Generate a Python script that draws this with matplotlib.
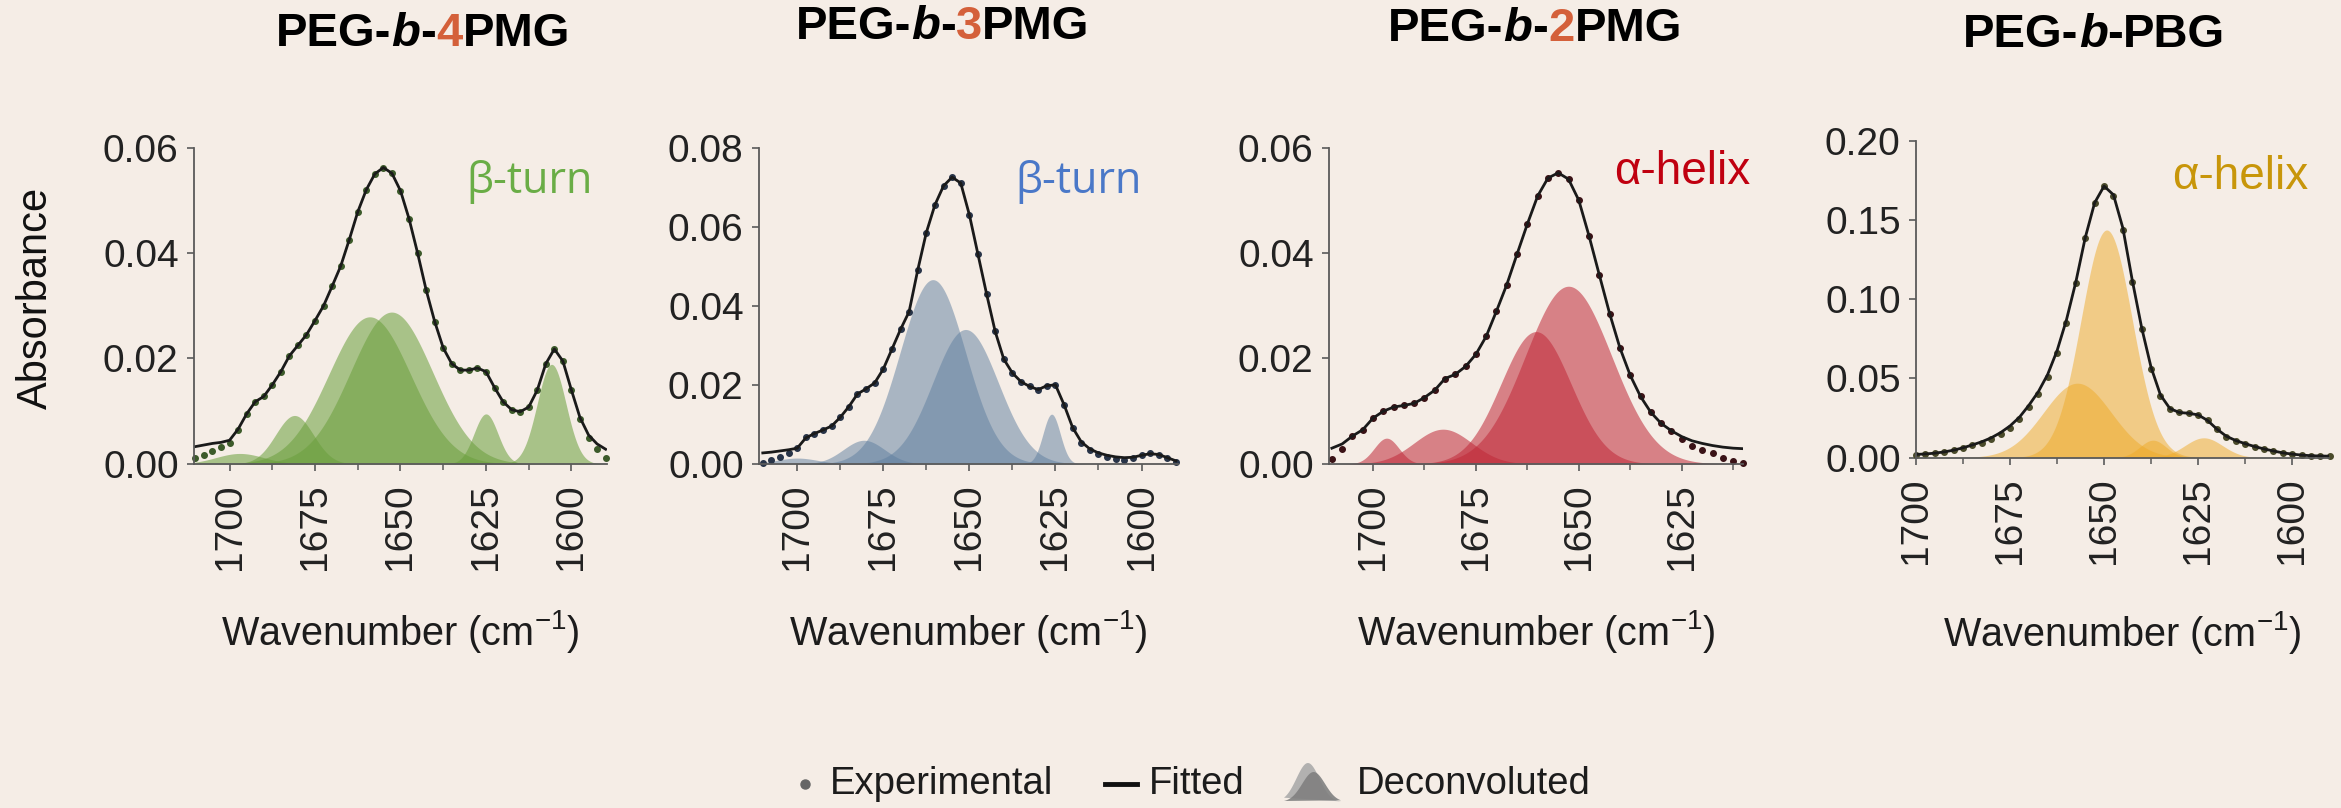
import numpy as np
import matplotlib.pyplot as plt
from matplotlib.ticker import MultipleLocator
from matplotlib.lines import Line2D
from matplotlib.patches import Polygon

W, H = 2341, 808
BG = '#f5ede6'

plt.rcParams['font.family'] = ['Liberation Sans', 'DejaVu Sans']
plt.rcParams['mathtext.fontset'] = 'custom'
plt.rcParams['mathtext.rm'] = 'Liberation Sans'
plt.rcParams['mathtext.it'] = 'Liberation Sans:italic'

# ---- data ----
titles = [('PEG-', 'b', '-', '4', 'PMG'),
          ('PEG-', 'b', '-', '3', 'PMG'),
          ('PEG-', 'b', '-', '2', 'PMG'),
          ('PEG-', 'b', '-', '', 'PBG')]
structures = ['β-turn', 'β-turn', 'α-helix', 'α-helix']
legend_labels = ['Experimental', 'Fitted', 'Deconvoluted']

wn1 = np.arange(1710, 1589, -2.5)
exp1 = [0.0012, 0.0018, 0.0025, 0.0032, 0.0040, 0.0065, 0.0095, 0.0118, 0.0128, 0.0150,
        0.0175, 0.0205, 0.0225, 0.0245, 0.0272, 0.0300, 0.0337, 0.0375, 0.0425, 0.0478,
        0.0520, 0.0550, 0.0562, 0.0551, 0.0518, 0.0465, 0.0400, 0.0330, 0.0270, 0.0220,
        0.0190, 0.0178, 0.0178, 0.0182, 0.0175, 0.0145, 0.0118, 0.0103, 0.0099, 0.0108,
        0.0140, 0.0190, 0.0218, 0.0195, 0.0140, 0.0085, 0.0050, 0.0028, 0.0012]
fit1 = [0.0033, 0.0036, 0.0039, 0.0041, 0.0045, 0.0066, 0.0095, 0.0118, 0.0128, 0.0150,
        0.0175, 0.0205, 0.0225, 0.0245, 0.0272, 0.0300, 0.0337, 0.0375, 0.0425, 0.0478,
        0.0520, 0.0550, 0.0562, 0.0551, 0.0518, 0.0465, 0.0400, 0.0330, 0.0270, 0.0220,
        0.0190, 0.0178, 0.0178, 0.0182, 0.0175, 0.0145, 0.0118, 0.0103, 0.0099, 0.0108,
        0.0140, 0.0190, 0.0218, 0.0195, 0.0140, 0.0088, 0.0055, 0.0038, 0.0028]
# deconvoluted bands: centre, height, sigma
bands1 = [(1697, 0.0020, 7), (1681, 0.0092, 5.5), (1659, 0.0279, 12), (1652.6, 0.0288, 12),
          (1625, 0.0095, 3.5), (1605.8, 0.0189, 4.2)]

wn2 = np.arange(1710, 1589, -2.5)
exp2 = [0.0003, 0.0010, 0.0018, 0.0028, 0.0040, 0.0068, 0.0077, 0.0086, 0.0096, 0.0118,
        0.0145, 0.0177, 0.0190, 0.0205, 0.0240, 0.0290, 0.0340, 0.0385, 0.0490, 0.0585,
        0.0655, 0.0703, 0.0725, 0.0710, 0.0630, 0.0530, 0.0430, 0.0335, 0.0265, 0.0230,
        0.0208, 0.0196, 0.0188, 0.0198, 0.0200, 0.0150, 0.0090, 0.0052, 0.0036, 0.0026,
        0.0018, 0.0012, 0.0011, 0.0015, 0.0022, 0.0027, 0.0024, 0.0015, 0.0004]
fit2 = [0.0028, 0.0030, 0.0033, 0.0036, 0.0040, 0.0066, 0.0077, 0.0086, 0.0096, 0.0118,
        0.0145, 0.0177, 0.0190, 0.0205, 0.0240, 0.0290, 0.0340, 0.0385, 0.0490, 0.0585,
        0.0655, 0.0703, 0.0725, 0.0710, 0.0630, 0.0530, 0.0430, 0.0335, 0.0265, 0.0230,
        0.0208, 0.0196, 0.0188, 0.0198, 0.0200, 0.0150, 0.0092, 0.0056, 0.0038, 0.0028,
        0.0022, 0.0018, 0.0016, 0.0017, 0.0022, 0.0026, 0.0024, 0.0016, 0.0008]
bands2 = [(1700, 0.0015, 6), (1680.6, 0.0060, 6), (1660.6, 0.0466, 9.5), (1651.1, 0.0340, 9.5),
          (1626.1, 0.0126, 2.5)]

wn3 = np.arange(1710, 1609, -2.5)
exp3 = [0.0010, 0.0028, 0.0053, 0.0065, 0.0087, 0.0100, 0.0108, 0.0111, 0.0115, 0.0126,
        0.0140, 0.0162, 0.0170, 0.0185, 0.0208, 0.0242, 0.0290, 0.0340, 0.0398, 0.0455,
        0.0508, 0.0542, 0.0552, 0.0540, 0.0500, 0.0432, 0.0358, 0.0285, 0.0220, 0.0168,
        0.0128, 0.0098, 0.0077, 0.0062, 0.0048, 0.0034, 0.0027, 0.0020, 0.0011, 0.0006,
        0.0002]
fit3 = [0.0030, 0.0038, 0.0053, 0.0065, 0.0087, 0.0100, 0.0108, 0.0111, 0.0115, 0.0126,
        0.0140, 0.0162, 0.0170, 0.0185, 0.0208, 0.0242, 0.0290, 0.0340, 0.0398, 0.0455,
        0.0508, 0.0542, 0.0552, 0.0540, 0.0500, 0.0432, 0.0358, 0.0285, 0.0220, 0.0168,
        0.0128, 0.0098, 0.0077, 0.0063, 0.0052, 0.0044, 0.0039, 0.0035, 0.0032, 0.0030,
        0.0029]
bands3 = [(1696.7, 0.0049, 3), (1683, 0.0066, 7), (1660.4, 0.0251, 8.5), (1652.5, 0.0337, 10.5)]

wn4 = np.arange(1700, 1589, -2.5)
exp4 = [0.0019, 0.0022, 0.0026, 0.0035, 0.0047, 0.0060, 0.0078, 0.0095, 0.0120, 0.0150,
        0.0190, 0.0245, 0.0320, 0.0400, 0.0510, 0.0660, 0.0850, 0.1100, 0.1390, 0.1610,
        0.1715, 0.1650, 0.1440, 0.1110, 0.0810, 0.0560, 0.0390, 0.0310, 0.0285, 0.0280,
        0.0270, 0.0235, 0.0178, 0.0130, 0.0105, 0.0085, 0.0068, 0.0055, 0.0042, 0.0028,
        0.0020, 0.0014, 0.0011, 0.0009, 0.0008]
fit4 = [0.0020, 0.0023, 0.0028, 0.0036, 0.0047, 0.0062, 0.0080, 0.0100, 0.0125, 0.0158,
        0.0200, 0.0255, 0.0330, 0.0415, 0.0525, 0.0675, 0.0870, 0.1110, 0.1390, 0.1610,
        0.1715, 0.1660, 0.1450, 0.1120, 0.0820, 0.0570, 0.0395, 0.0310, 0.0285, 0.0280,
        0.0270, 0.0235, 0.0180, 0.0135, 0.0108, 0.0088, 0.0070, 0.0055, 0.0042, 0.0030,
        0.0022, 0.0016, 0.0012, 0.0010, 0.0009]
bands4 = [(1657.1, 0.0470, 9), (1649.3, 0.1438, 6.8), (1637, 0.0110, 3.5), (1623.5, 0.0125, 5)]

# ---- styling / layout (pixel boxes: left, top, right, bottom) ----
rects = [[194, 147.5, 607, 464], [759, 147.5, 1178, 464], [1329, 147.5, 1743, 464],
         [1916, 141, 2329, 457.6]]
xlims = [(1710.4, 1589.6), (1711.1, 1589.4), (1710.7, 1610.1), (1700, 1590.2)]
ylims = [(0, 0.06), (0, 0.08), (0, 0.06), (0, 0.20)]
yticks = [0.02, 0.02, 0.02, 0.05]
fill_colors = ['#6a9f3c', '#5f7fa0', '#c02838', '#eeaa28']
fill_alpha = [0.55, 0.5, 0.55, 0.5]
dot_colors = ['#3c5a2a', '#283448', '#3a1216', '#4a4a2a']
label_colors = ['#6aad46', '#4a78c8', '#c00010', '#c8960a']
label_pos = [(0.966, 0.856), (0.913, 0.856), (1.017, 0.884), (0.949, 0.847)]
title_pos = [(423, 33.6), (942.5, 27), (1535, 29.3), (2094.4, 34.7)]
ACCENT = '#d4603a'
TXT = '#1c1c1c'

data = [(wn1, exp1, fit1, bands1), (wn2, exp2, fit2, bands2),
        (wn3, exp3, fit3, bands3), (wn4, exp4, fit4, bands4)]

fig = plt.figure(figsize=(W / 100, H / 100), dpi=100, facecolor=BG)


def fx(px):
    return px / W


def fy(py):
    return 1 - py / H


for i, (wn, ex, ft, bands) in enumerate(data):
    l, t, r, b = rects[i]
    ax = fig.add_axes([fx(l), fy(b), (r - l) / W, (b - t) / H], facecolor='none')
    xx = np.linspace(xlims[i][1], xlims[i][0], 500)
    for c, h, s in bands:
        ax.fill_between(xx, 0, h * np.exp(-0.5 * ((xx - c) / s) ** 2),
                        color=fill_colors[i], alpha=fill_alpha[i], lw=0)
    ax.plot(wn, ex, ls='', marker='o', ms=4.0, color=dot_colors[i], clip_on=False)
    ax.plot(wn, ft, color='#1a1a1a', lw=2.0)
    ax.set_xlim(*xlims[i])
    ax.set_ylim(*ylims[i])
    ax.xaxis.set_major_locator(MultipleLocator(25))
    ax.xaxis.set_minor_locator(MultipleLocator(12.5))
    ax.yaxis.set_major_locator(MultipleLocator(yticks[i]))
    ax.yaxis.set_major_formatter(lambda v, p: f'{v:.2f}')
    for side in ['top', 'right']:
        ax.spines[side].set_visible(False)
    for side in ['left', 'bottom']:
        ax.spines[side].set_color('#5a5a5a')
        ax.spines[side].set_linewidth(1.3)
    ax.tick_params(axis='both', which='major', direction='out', length=5, width=1.2,
                   color='#5a5a5a', labelsize=28, labelcolor='#222222', pad=6)
    ax.tick_params(axis='x', which='minor', direction='out', length=4.5, width=1.1, color='#5a5a5a')
    ax.tick_params(axis='x', labelrotation=90, pad=9)
    ax.text(0.5, (b - 632) / (b - t), 'Wavenumber (cm$^{-1}$)', transform=ax.transAxes,
            ha='center', va='center', fontsize=28.5, color=TXT)
    if i < 2:
        ax.text(label_pos[i][0], label_pos[i][1], structures[i], transform=ax.transAxes,
                ha='right', va='baseline', fontsize=31, color=label_colors[i],
                family=['Open Sans', 'DejaVu Sans'])
    else:
        ax.text(label_pos[i][0], label_pos[i][1], structures[i], transform=ax.transAxes,
                ha='right', va='baseline', fontsize=33, color=label_colors[i])

fig.text(fx(35.6), fy(298), 'Absorbance', rotation=90, ha='center', va='center',
         fontsize=30, color='#111111')

# multi-coloured bold titles
renderer = fig.canvas.get_renderer()
for (xc, yc), parts in zip(title_pos, titles):
    styles = ['normal', 'italic', 'normal', 'normal', 'normal']
    colors = ['black', 'black', 'black', ACCENT, 'black']
    texts = []
    for s, st, col in zip(parts, styles, colors):
        if not s:
            continue
        texts.append(fig.text(0, 0, s, fontsize=34, fontweight='bold', fontstyle=st,
                              color=col, va='center', ha='left'))
    widths = [tx.get_window_extent(renderer).width for tx in texts]
    x = xc - sum(widths) / 2
    for tx, w in zip(texts, widths):
        tx.set_position((fx(x), fy(yc)))
        x += w

# legend row at the bottom
ly = 784
fig.add_artist(Line2D([fx(805)], [fy(ly)], marker='o', ms=6.5, color='#666666',
                      transform=fig.transFigure))
fig.text(fx(830), fy(ly), legend_labels[0], ha='left', va='center', fontsize=27.5, color=TXT)
fig.add_artist(Line2D([fx(1105), fx(1137)], [fy(ly), fy(ly)], lw=3.5, color='#111111',
                      transform=fig.transFigure))
fig.text(fx(1149), fy(ly), legend_labels[1], ha='left', va='center', fontsize=27.5, color=TXT)
u = np.linspace(0, 1, 60)
for c, s, top, col in [(0.42, 0.2, 763, '#ababab'), (0.52, 0.2, 772, '#808080')]:
    hgt = (802 - top) * np.exp(-0.5 * ((u - c) / s) ** 2)
    pts = np.column_stack([fx(1284 + u * 57), fy(802 - hgt)])
    fig.add_artist(Polygon(pts, closed=True, fc=col, ec='none', alpha=0.9,
                           transform=fig.transFigure))
fig.text(fx(1357), fy(ly), legend_labels[2], ha='left', va='center', fontsize=27.5, color=TXT)

fig.savefig('out.png', dpi=100, facecolor=BG)
